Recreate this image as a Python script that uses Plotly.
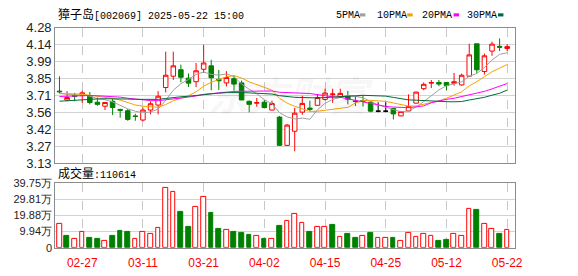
import plotly.graph_objects as go
import pandas as pd

# ---------------- data ----------------
dates = [
    "2025-02-24", "2025-02-25", "2025-02-26", "2025-02-27", "2025-02-28",
    "2025-03-03", "2025-03-04", "2025-03-05", "2025-03-06", "2025-03-07",
    "2025-03-10", "2025-03-11", "2025-03-12", "2025-03-13", "2025-03-14",
    "2025-03-17", "2025-03-18", "2025-03-19", "2025-03-20", "2025-03-21",
    "2025-03-24", "2025-03-25", "2025-03-26", "2025-03-27", "2025-03-28",
    "2025-03-31", "2025-04-01", "2025-04-02", "2025-04-03", "2025-04-07",
    "2025-04-08", "2025-04-09", "2025-04-10", "2025-04-11", "2025-04-14",
    "2025-04-15", "2025-04-16", "2025-04-17", "2025-04-18", "2025-04-21",
    "2025-04-22", "2025-04-23", "2025-04-24", "2025-04-25", "2025-04-28",
    "2025-04-29", "2025-04-30", "2025-05-06", "2025-05-07", "2025-05-08",
    "2025-05-09", "2025-05-12", "2025-05-13", "2025-05-14", "2025-05-15",
    "2025-05-16", "2025-05-19", "2025-05-20", "2025-05-21", "2025-05-22",
]
opens = [3.74, 3.665, 3.705, 3.702, 3.70, 3.646, 3.612, 3.654, 3.585, 3.574,
         3.53, 3.495, 3.58, 3.622, 3.771, 3.867, 3.922, 3.85, 3.82, 3.926,
         3.955, 3.84, 3.81, 3.846, 3.81, 3.654, 3.638, 3.646, 3.58, 3.52,
         3.28, 3.40, 3.562, 3.596, 3.62, 3.67, 3.71, 3.695, 3.697, 3.657,
         3.66, 3.646, 3.57, 3.57, 3.593, 3.53, 3.572, 3.638, 3.761, 3.808,
         3.813, 3.814, 3.806, 3.793, 3.867, 4.142, 3.907, 4.08, 4.12, 4.102]
highs = [3.865, 3.74, 3.726, 3.745, 3.732, 3.686, 3.646, 3.676, 3.59, 3.588,
         3.548, 3.601, 3.654, 3.74, 4.075, 4.075, 3.965, 3.89, 3.979, 4.134,
         4.006, 3.92, 3.91, 3.87, 3.83, 3.66, 3.682, 3.665, 3.66, 3.53,
         3.46, 3.597, 3.70, 3.66, 3.713, 3.761, 3.761, 3.761, 3.742, 3.697,
         3.70, 3.654, 3.646, 3.646, 3.595, 3.57, 3.713, 3.735, 3.814, 3.835,
         3.835, 3.814, 3.894, 3.889, 4.142, 4.142, 4.059, 4.16, 4.187, 4.139]
lows = [3.72, 3.654, 3.654, 3.641, 3.628, 3.617, 3.58, 3.537, 3.515, 3.489,
        3.489, 3.484, 3.543, 3.543, 3.729, 3.835, 3.815, 3.775, 3.774, 3.894,
        3.747, 3.75, 3.78, 3.745, 3.665, 3.56, 3.608, 3.598, 3.578, 3.275,
        3.275, 3.23, 3.54, 3.57, 3.618, 3.66, 3.641, 3.686, 3.628, 3.614,
        3.61, 3.561, 3.561, 3.561, 3.50, 3.528, 3.57, 3.635, 3.748, 3.766,
        3.782, 3.748, 3.787, 3.787, 3.862, 3.894, 3.881, 4.04, 4.08, 4.08]
closes = [3.735, 3.686, 3.695, 3.726, 3.644, 3.628, 3.644, 3.601, 3.578, 3.50,
          3.525, 3.58, 3.633, 3.697, 3.875, 3.955, 3.858, 3.808, 3.913, 3.979,
          3.854, 3.828, 3.856, 3.80, 3.665, 3.628, 3.642, 3.60, 3.635, 3.28,
          3.452, 3.553, 3.636, 3.586, 3.686, 3.724, 3.716, 3.721, 3.671, 3.652,
          3.655, 3.57, 3.57, 3.57, 3.547, 3.567, 3.61, 3.732, 3.798, 3.813,
          3.80, 3.787, 3.82, 3.875, 4.048, 3.921, 4.04, 4.139, 4.113, 4.118]
volumes = [149000, 73000, 54000, 95000, 62000, 56000, 43000, 73000, 102000, 97000,
           54000, 95000, 85000, 124000, 367000, 345000, 218000, 131000, 251000, 309000,
           212000, 119000, 112000, 97000, 91000, 79000, 72000, 56000, 56000, 137000,
           164000, 205000, 153000, 97000, 126000, 131000, 143000, 68000, 85000, 62000,
           72000, 91000, 60000, 60000, 60000, 43000, 89000, 68000, 83000, 72000,
           45000, 50000, 83000, 72000, 240000, 230000, 147000, 118000, 85000, 110614]
# closes before 2025-02-24 (estimated so that the MA lines start where the reference shows)
prior_closes = [3.55, 3.56, 3.54, 3.57, 3.58, 3.59, 3.57, 3.60, 3.59, 3.60,
                3.62, 3.64, 3.66, 3.65, 3.68, 3.70, 3.67, 3.69, 3.68, 3.70,
                3.71, 3.73, 3.72, 3.74, 3.70, 3.73, 3.71, 3.72, 3.705]

ma_periods = [5, 10, 20, 30]
ma_names = ["5PMA", "10PMA", "20PMA", "30PMA"]

price_tick_vals = [3.13, 3.27375, 3.4175, 3.56125, 3.705, 3.84875, 3.9925, 4.13625, 4.28]
price_tick_text = ["3.13", "3.27", "3.42", "3.56", "3.71", "3.85", "3.99", "4.14", "4.28"]
vol_tick_vals = [0, 99375, 198750, 298125, 397500]
vol_tick_text = ["0", "9.94万", "19.88万", "29.81万", "39.75万"]
x_tick_dates = ["2025-02-27", "2025-03-11", "2025-03-21", "2025-04-02",
                "2025-04-15", "2025-04-25", "2025-05-12", "2025-05-22"]
x_tick_text = ["02-27", "03-11", "03-21", "04-02", "04-15", "04-25", "05-12", "05-22"]

title_text = "獐子岛[002069] 2025-05-22 15:00"
vol_label = "成交量:"
watermark = "东方财富"

# ---------------- styles ----------------
RED = "#ff0000"
GREEN = "#008000"
MA_COLORS = ["#a0a0a0", "#f5a300", "#ff00ff", "#006b36"]
FRAME = "#8c8c8c"
GRID = "#d3d3d3"
W, H = 578, 276
L_PX, R_PX = 56, 522
P_TOP, P_BOT = 21.7, 165
V_TOP, V_BOT = 186, 254.7

def py(px):
    return 1 - px / H

def pxx(px):
    return px / W

n = len(dates)
fig = go.Figure()

# candles split by direction
groups = [
    ([i for i in range(n) if closes[i] > opens[i]], RED, "white"),
    ([i for i in range(n) if closes[i] < opens[i]], GREEN, GREEN),
    ([i for i in range(n) if closes[i] == opens[i]], "#000000", "#000000"),
]
for idxs, lc, fc in groups:
    if not idxs:
        continue
    style = dict(line=dict(color=lc, width=1), fillcolor=fc)
    fig.add_trace(go.Candlestick(
        x=[dates[i] for i in idxs],
        open=[opens[i] for i in idxs], high=[highs[i] for i in idxs],
        low=[lows[i] for i in idxs], close=[closes[i] for i in idxs],
        increasing=style, decreasing=style, whiskerwidth=0,
        showlegend=False, hoverinfo="skip", xaxis="x", yaxis="y"))

# moving averages
all_closes = pd.Series(prior_closes + closes)
for p, c in zip(ma_periods, MA_COLORS):
    ma = all_closes.rolling(p).mean().iloc[len(prior_closes):].tolist()
    fig.add_trace(go.Scatter(x=dates, y=ma, mode="lines",
                             line=dict(color=c, width=1), showlegend=False,
                             hoverinfo="skip", xaxis="x", yaxis="y"))

# volume
prev = [prior_closes[-1]] + closes[:-1]
vol_up = [closes[i] >= prev[i] for i in range(n)]
fig.add_trace(go.Bar(
    x=dates, y=volumes, width=0.62,
    marker=dict(color=["white" if u else GREEN for u in vol_up],
                line=dict(color=[RED if u else GREEN for u in vol_up], width=1)),
    showlegend=False, hoverinfo="skip", xaxis="x2", yaxis="y2"))

xcommon = dict(domain=[pxx(L_PX), pxx(R_PX)], type="category",
               categoryorder="array", categoryarray=dates,
               range=[-0.56, 60.0], tickmode="array", tickvals=x_tick_dates,
               showgrid=True, gridcolor="#c8c8c8", griddash="dash", gridwidth=1,
               showline=True, mirror=True, linecolor=FRAME, linewidth=1,
               zeroline=False, ticks="", fixedrange=True)
ycommon = dict(showgrid=True, gridcolor=GRID, gridwidth=1, showline=True,
               mirror=True, linecolor=FRAME, linewidth=1, zeroline=False,
               ticks="", tickmode="array",
               tickfont=dict(family="Liberation Sans, Arial", size=13, color="#222"))

fig.update_layout(
    width=W, height=H, margin=dict(l=0, r=0, t=0, b=0),
    paper_bgcolor="white", plot_bgcolor="white",
    boxgap=0.15, boxgroupgap=0.3,
    bargap=0,
    xaxis=dict(**xcommon, anchor="y", showticklabels=False,
               rangeslider=dict(visible=False)),
    xaxis2=dict(**xcommon, anchor="y2", matches="x", showticklabels=True,
                ticktext=x_tick_text, ticklabelstandoff=4,
                tickfont=dict(family="Liberation Sans, Arial", size=12, color=RED)),
    yaxis=dict(**ycommon, domain=[py(P_BOT), py(P_TOP)], range=[3.13, 4.28],
               tickvals=price_tick_vals, ticktext=price_tick_text),
    yaxis2=dict(**ycommon, domain=[py(V_BOT), py(V_TOP)], range=[0, 397500],
                tickvals=vol_tick_vals, ticktext=vol_tick_text),
)
fig.layout.yaxis2.tickfont.size = 11

mono = "Liberation Mono, Noto Sans CJK SC"
annots = [
    dict(text="<span style='font-size:12px'>" + title_text[:3] + "</span>" + title_text[3:],
         x=pxx(57), y=py(8.5), xanchor="left", yanchor="middle"),
    dict(text="<span style='font-size:12px'>" + vol_label[:3] + "</span>" + vol_label[3:] + str(volumes[-1]),
         x=pxx(57), y=py(177), xanchor="left", yanchor="middle"),
]
legend_x = [339, 380, 425.7, 471.7]
for name, lx in zip(ma_names, legend_x):
    annots.append(dict(text=name, x=pxx(lx), y=py(8.5), xanchor="left", yanchor="middle"))
for a in annots:
    a.update(xref="paper", yref="paper", showarrow=False,
             font=dict(family=mono, size=10, color="#000"))
# watermark
annots.append(dict(text="<i><b>" + watermark + "</b></i>", x=pxx(295), y=py(92),
                   xref="paper", yref="paper", xanchor="center", yanchor="middle",
                   showarrow=False,
                   font=dict(family="Noto Sans CJK SC", size=40, color="rgba(0,0,0,0.055)")))
fig.update_layout(annotations=annots)

sq_x = [365, 413, 460, 505]
for sx, c in zip(sq_x, MA_COLORS):
    fig.add_shape(type="rect", xref="paper", yref="paper",
                  x0=pxx(sx), x1=pxx(sx + 5.5), y0=py(10), y1=py(6.7),
                  fillcolor=c, line=dict(width=0))

fig.write_html("out.html", config={"displayModeBar": False})
